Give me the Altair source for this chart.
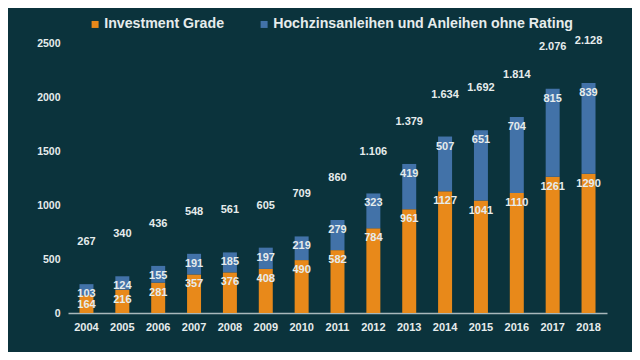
import altair as alt
import pandas as pd

years = ["2004", "2005", "2006", "2007", "2008", "2009", "2010", "2011",
         "2012", "2013", "2014", "2015", "2016", "2017", "2018"]
investment_grade = [164, 216, 281, 357, 376, 408, 490, 582, 784, 961, 1127, 1041, 1110, 1261, 1290]
high_yield = [103, 124, 155, 191, 185, 197, 219, 279, 323, 419, 507, 651, 704, 815, 839]
totals = [267, 340, 436, 548, 561, 605, 709, 860, 1106, 1379, 1634, 1692, 1814, 2076, 2128]
series_names = ["Investment Grade", "Hochzinsanleihen und Anleihen ohne Rating"]
y_ticks = [0, 500, 1000, 1500, 2000, 2500]

BG = "#0b333c"
TXT = "#e6ecec"
FONT = "Liberation Sans"

rows = []
for y, ig, hy in zip(years, investment_grade, high_yield):
    rows.append({"year": y, "series": series_names[0], "start": 0, "end": ig, "value": ig})
    rows.append({"year": y, "series": series_names[1], "start": ig, "end": ig + hy, "value": hy})
df = pd.DataFrame(rows)


def de_fmt(v):
    return f"{v:,}".replace(",", ".")


tot = pd.DataFrame({"year": years, "total": totals, "label": [de_fmt(t) for t in totals]})

xenc = alt.X("year:N", title=None,
             scale=alt.Scale(paddingInner=0.61, paddingOuter=0.32),
             axis=alt.Axis(labelAngle=0, ticks=False, domain=True, domainColor="#a9b8bb",
                           domainWidth=1.5, labelColor=TXT, labelFont=FONT, labelFontSize=11,
                           labelFontWeight="bold", labelPadding=8))
yscale = alt.Scale(domain=[0, 2500], nice=False)

bars = alt.Chart(df).mark_bar().encode(
    x=xenc,
    y=alt.Y("start:Q", scale=yscale, title=None,
            axis=alt.Axis(values=y_ticks, format="d", grid=False, ticks=False,
                          domain=False, labelColor=TXT, labelFont=FONT, labelFontSize=10.5,
                          labelFontWeight="bold", labelPadding=8)),
    y2="end:Q",
    color=alt.Color("series:N", title=None,
                    scale=alt.Scale(domain=series_names, range=["#e8891a", "#4272a8"]),
                    sort=series_names,
                    legend=alt.Legend(orient="none", legendX=20, legendY=-26, direction="horizontal",
                                      symbolType="square", symbolSize=49, symbolStrokeWidth=0,
                                      labelColor=TXT, labelFont=FONT, labelFontSize=14.2,
                                      labelFontWeight="bold", columnPadding=32, labelOffset=2,
                                      labelLimit=0)),
)

inner = alt.Chart(df).mark_text(baseline="middle", dy=10, font=FONT, fontSize=11,
                                fontWeight="bold", color=TXT).encode(
    x="year:N",
    y=alt.Y("end:Q", scale=yscale),
    text="value:Q",
)

tot_text = alt.Chart(tot).mark_text(baseline="middle", dy=-42, font=FONT, fontSize=11,
                                    fontWeight="bold", color=TXT).encode(
    x="year:N",
    y=alt.Y("total:Q", scale=yscale),
    text="label:N",
)

chart = alt.layer(bars, inner, tot_text).properties(
    width=539, height=270,
    background=BG,
    padding={"left": 60, "top": 35, "right": 25, "bottom": 39},
    autosize=alt.AutoSizeParams(type="none"),
).configure_view(stroke=None)

chart.save("out.html", embed_options={"renderer": "svg", "actions": False})
